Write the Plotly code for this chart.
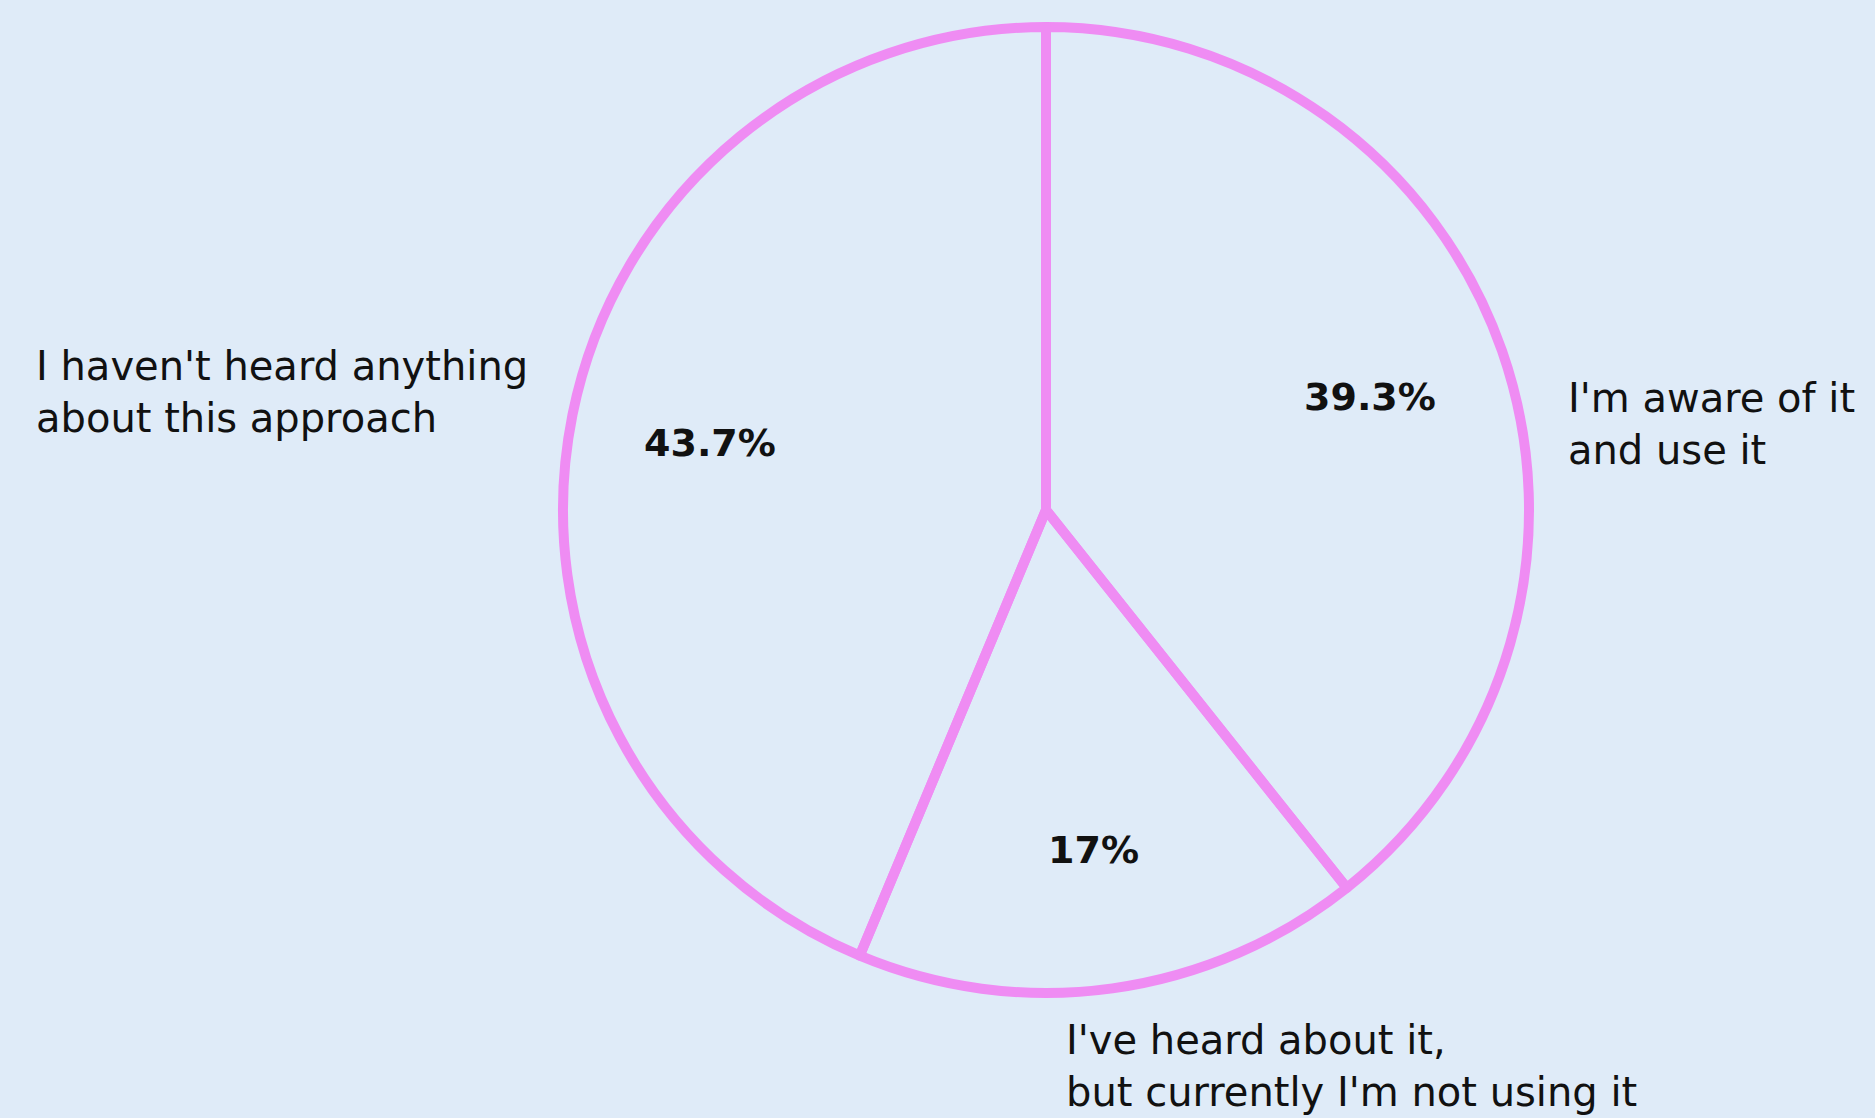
import math
import plotly.graph_objects as go

# ---- data ----
labels = ["I'm aware of it<br>and use it",
          "I've heard about it,<br>but currently I'm not using it",
          "I haven't heard anything<br>about this approach"]
values = [39.3, 17.0, 43.7]
pct_text = ["39.3%", "17%", "43.7%"]

# ---- layout constants ----
W, H = 1875, 1118
CX, CY, R = 1046, 510, 483          # pie centre / radius in pixels
PINK = "#ef8cf3"
BG = "#dfebf8"
FONT = "DejaVu Sans"

fig = go.Figure()
fig.add_trace(go.Pie(
    labels=labels,
    values=values,
    sort=False,
    direction="clockwise",
    rotation=0,
    textinfo="none",
    hoverinfo="label+percent",
    marker=dict(colors=["rgba(0,0,0,0)"] * 3, line=dict(color=PINK, width=10)),
    domain=dict(x=[(CX - R) / W, (CX + R) / W], y=[1 - (CY + R) / H, 1 - (CY - R) / H]),
    showlegend=False,
))

# percentage labels placed along each slice bisector
annotations = []
total = sum(values)
cum = 0.0
for v, t in zip(values, pct_text):
    mid = (cum + v / 2) / total * 2 * math.pi
    cum += v
    px = CX + 0.71 * R * math.sin(mid)
    py = CY - 0.71 * R * math.cos(mid)
    annotations.append(dict(x=px / W, y=1 - py / H, xref="paper", yref="paper",
                            text="<b>" + t + "</b>", showarrow=False,
                            xanchor="center", yanchor="middle",
                            font=dict(family=FONT, size=38, color="#111111")))

# category labels (x, y, y-anchor) in pixels
label_pos = [(1566, 424, "middle"), (1064, 1117, "bottom"), (34, 392, "middle")]
for lab, (lx, ly, ya) in zip(labels, label_pos):
    annotations.append(dict(x=lx / W, y=1 - ly / H, xref="paper", yref="paper",
                            text=lab, showarrow=False, align="left",
                            xanchor="left", yanchor=ya,
                            font=dict(family=FONT, size=40, color="#111111")))

fig.update_layout(
    width=W, height=H,
    margin=dict(l=0, r=0, t=0, b=0),
    paper_bgcolor=BG, plot_bgcolor=BG,
    annotations=annotations,
)

fig.write_html("out.html")
